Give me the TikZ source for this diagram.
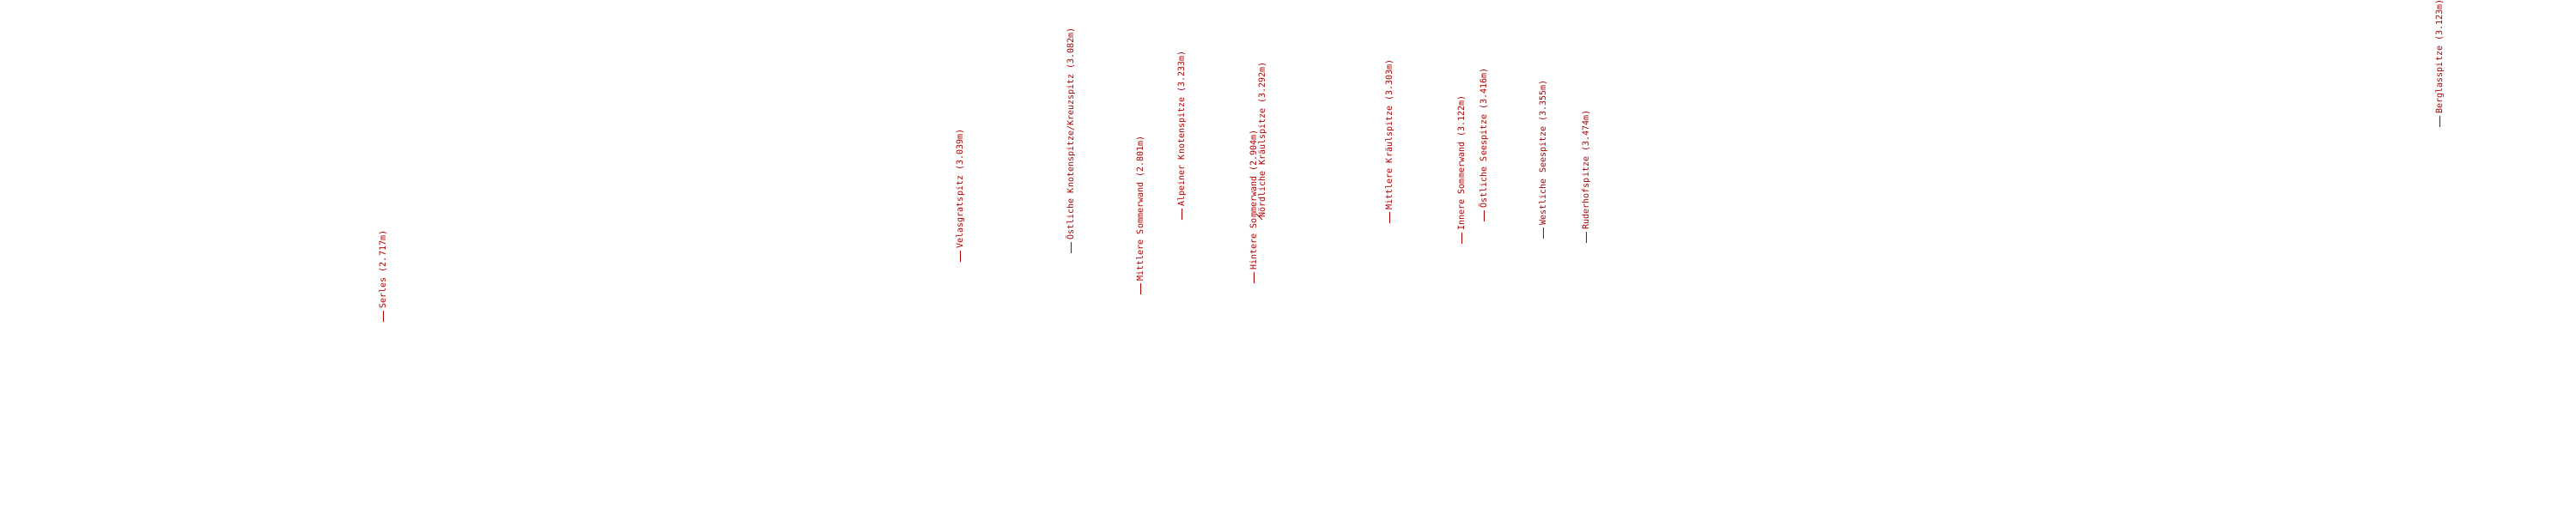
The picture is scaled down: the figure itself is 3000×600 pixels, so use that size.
\documentclass[tikz,border=0pt]{standalone}
\usepackage{fontspec}
\newfontfamily\peakfont{DejaVu Sans Mono}
\usepackage{tikz}
\usetikzlibrary{positioning}
\definecolor{peakred}{RGB}{170,0,0}

\begin{document}
\begin{tikzpicture}[x=0.1mm,y=-0.1mm,
    peaklabel/.style={rotate=90,anchor=west,inner xsep=0.2mm,inner ysep=0pt,
      text height=1.82pt,text depth=0pt,
      text=peakred,font=\peakfont\fontsize{2.85pt}{3pt}\selectfont},
    tick/.style={draw=peakred,line width=0.1mm}]
  \useasboundingbox (0,0) rectangle (3000,600);
  % peaks, left to right
  \coordinate (serles) at (446,375);
  \node (serlesL) [above=1.3mm of serles,peaklabel] {Serles (2.717m)};
  \draw [tick] (serles) -- (serlesL.west);

  \coordinate (velas) at (1118,305);
  \node (velasL) [above=1.3mm of velas,peaklabel] {Velasgratspitz (3.039m)};
  \draw [tick] (velas) -- (velasL.west);

  \coordinate (oknoten) at (1247,295);
  \node (oknotenL) [above=1.3mm of oknoten,peaklabel] {Östliche Knotenspitze/Kreuzspitz (3.082m)};
  \draw [tick] (oknoten) -- (oknotenL.west);

  \coordinate (msommer) at (1328,343);
  \node (msommerL) [above=1.3mm of msommer,peaklabel] {Mittlere Sommerwand (2.801m)};
  \draw [tick] (msommer) -- (msommerL.west);

  \coordinate (alpein) at (1376,256);
  \node (alpeinL) [above=1.3mm of alpein,peaklabel] {Alpeiner Knotenspitze (3.233m)};
  \draw [tick] (alpein) -- (alpeinL.west);

  \coordinate (hsommer) at (1460,330);
  \node (hsommerL) [above=1.3mm of hsommer,peaklabel] {Hintere Sommerwand (2.904m)};
  \draw [tick] (hsommer) -- (hsommerL.west);

  \coordinate (nkraeul) at (1463,249);
  \node (nkraeulL) [peaklabel] at (1470,256) {Nördliche Kräulspitze (3.292m)};
  \draw [tick] (nkraeul) -- (nkraeulL.west);

  \coordinate (mkraeul) at (1618,260);
  \node (mkraeulL) [above=1.3mm of mkraeul,peaklabel] {Mittlere Kräulspitze (3.303m)};
  \draw [tick] (mkraeul) -- (mkraeulL.west);

  \coordinate (isommer) at (1702,284);
  \node (isommerL) [above=1.3mm of isommer,peaklabel] {Innere Sommerwand (3.122m)};
  \draw [tick] (isommer) -- (isommerL.west);

  \coordinate (osee) at (1728,258);
  \node (oseeL) [above=1.3mm of osee,peaklabel] {Östliche Seespitze (3.416m)};
  \draw [tick] (osee) -- (oseeL.west);

  \coordinate (wsee) at (1797,278);
  \node (wseeL) [above=1.3mm of wsee,peaklabel] {Westliche Seespitze (3.355m)};
  \draw [tick] (wsee) -- (wseeL.west);

  \coordinate (ruderhof) at (1847,283);
  \node (ruderhofL) [above=1.3mm of ruderhof,peaklabel] {Ruderhofspitze (3.474m)};
  \draw [tick] (ruderhof) -- (ruderhofL.west);

  \coordinate (berglas) at (2841,148);
  \node (berglasL) [above=1.3mm of berglas,peaklabel] {Berglasspitze (3.123m)};
  \draw [tick] (berglas) -- (berglasL.west);
\end{tikzpicture}
\end{document}
